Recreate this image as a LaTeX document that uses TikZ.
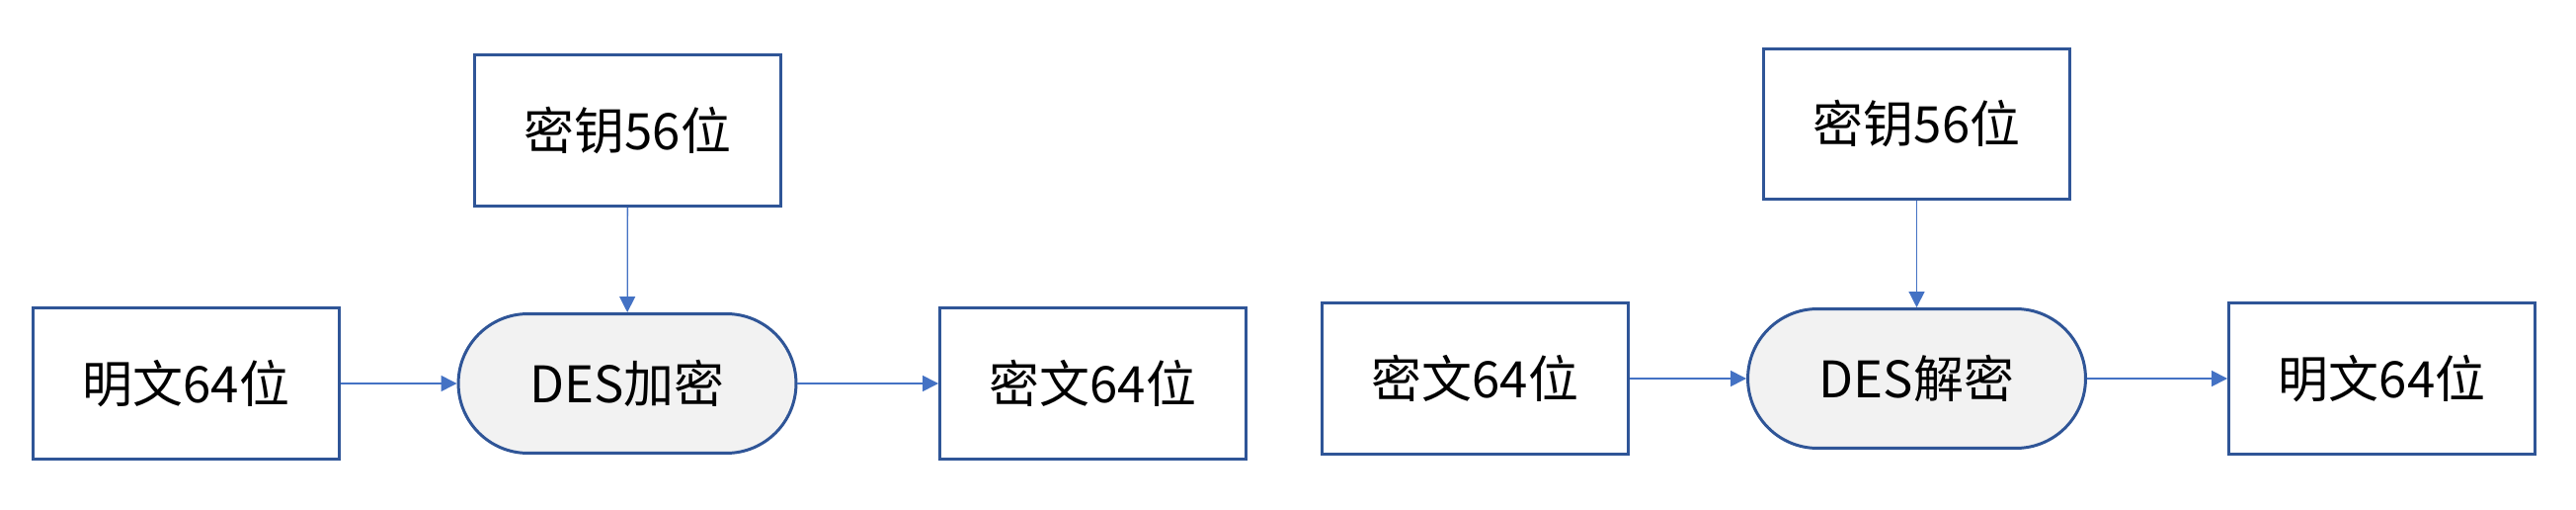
\documentclass[tikz,border=0pt]{standalone}
\usepackage{fontspec}
\setmainfont{Noto Sans CJK SC}
\usetikzlibrary{arrows.meta}

\definecolor{boxblue}{HTML}{2F5597}
\definecolor{lineblue}{HTML}{4472C4}
\definecolor{desgray}{HTML}{F2F2F2}

\tikzset{
	databox/.style={draw=boxblue, line width=1.7pt, fill=white, minimum width=6.2cm, minimum height=3.06cm, font=\fontsize{29}{35}\selectfont},
	desbox/.style={draw=boxblue, line width=1.7pt, fill=desgray, rounded corners=1.41cm, minimum width=6.84cm, minimum height=2.82cm, font=\fontsize{29}{35}\selectfont},
	flow/.style={draw=lineblue, line width=0.75pt, -{Triangle[length=0.32cm,width=0.32cm]}}
}

\begin{document}
\begin{tikzpicture}[x=0.02cm,y=-0.02cm]
		\useasboundingbox (0,0) rectangle (2608,516);
		% chiffrement
		\node[databox] (plainL) at (188.5,388) {明文64位};
		\node[databox] (keyL) at (635.5,132) {密钥56位};
		\node[desbox] (encL) at (635,388) {DES加密};
		\node[databox] (cipherL) at (1106.5,388) {密文64位};
		\draw[flow] (plainL) -- (encL);
		\draw[flow] (keyL) -- (encL);
		\draw[flow] (encL) -- (cipherL);
		% dechiffrement
		\node[databox] (cipherR) at (1493.5,383) {密文64位};
		\node[databox] (keyR) at (1940.5,125.5) {密钥56位};
		\node[desbox] (decR) at (1940.5,383) {DES解密};
		\node[databox] (plainR) at (2411.5,383) {明文64位};
		\draw[flow] (cipherR) -- (decR);
		\draw[flow] (keyR) -- (decR);
		\draw[flow] (decR) -- (plainR);
	\end{tikzpicture}
\end{document}
